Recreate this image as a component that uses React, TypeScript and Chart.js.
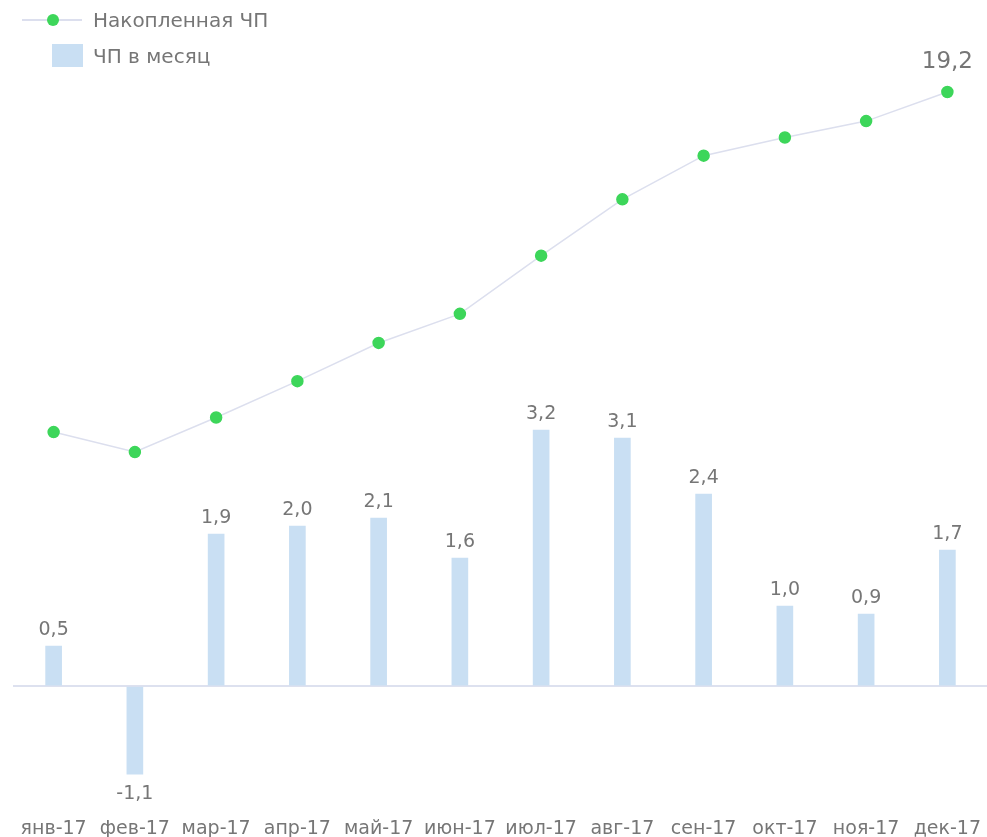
import React, { useEffect, useRef } from "react";
import { Chart, registerables } from "chart.js";

Chart.register(...registerables);

const categories = ["янв-17", "фев-17", "мар-17", "апр-17", "май-17", "июн-17", "июл-17", "авг-17", "сен-17", "окт-17", "ноя-17", "дек-17"];
const monthly = [0.5, -1.1, 1.9, 2.0, 2.1, 1.6, 3.2, 3.1, 2.4, 1.0, 0.9, 1.7];
const cumulative = [0.5, -0.6, 1.3, 3.3, 5.4, 7.0, 10.2, 13.3, 15.7, 16.7, 17.6, 19.2];
const seriesNames = ["Накопленная ЧП", "ЧП в месяц"];

const FONT = "'DejaVu Sans', sans-serif";
const TEXT = "#767676";
const BAR = "#c9dff3";
const LINE = "#dcdfee";
const DOT = "#3dd65a";

const fmt = (v: number) => v.toFixed(1).replace(".", ",");

const labelPlugin = {
  id: "valueLabels",
  afterDatasetsDraw(chart: any) {
    const ctx = chart.ctx;
    ctx.save();
    ctx.fillStyle = TEXT;
    ctx.textAlign = "center";
    ctx.textBaseline = "alphabetic";
    const barMeta = chart.getDatasetMeta(1);
    ctx.font = `19px ${FONT}`;
    barMeta.data.forEach((el: any, i: number) => {
      const v = monthly[i];
      if (v >= 0) {
        ctx.fillText(fmt(v), el.x, el.y - 11);
      } else {
        ctx.fillText(fmt(v), el.x, el.y + 25);
      }
    });
    const lineMeta = chart.getDatasetMeta(0);
    const last = lineMeta.data[lineMeta.data.length - 1];
    ctx.font = `23px ${FONT}`;
    ctx.fillText(fmt(cumulative[cumulative.length - 1]), last.x, last.y - 24);
    ctx.restore();
  },
};

export default function App() {
  const ref = useRef<HTMLCanvasElement>(null);
  useEffect(() => {
    if (!ref.current) return;
    const chart = new Chart(ref.current, {
      type: "bar",
      data: {
        labels: categories,
        datasets: [
          {
            type: "line",
            label: seriesNames[0],
            data: cumulative,
            yAxisID: "yLine",
            borderColor: LINE,
            borderWidth: 1.5,
            pointBackgroundColor: DOT,
            pointBorderColor: DOT,
            pointRadius: 5.5,
            tension: 0,
            order: 0,
          } as any,
          {
            type: "bar",
            label: seriesNames[1],
            data: monthly,
            yAxisID: "yBar",
            backgroundColor: BAR,
            barThickness: 16,
            order: 1,
          },
        ],
      },
      options: {
        animation: false,
        responsive: true,
        maintainAspectRatio: false,
        layout: { padding: { left: 13, right: 0, top: 20, bottom: 6 } },
        plugins: { legend: { display: false }, tooltip: { enabled: false } },
        scales: {
          x: {
            grid: { display: false },
            border: { display: false },
            ticks: { color: TEXT, font: { family: FONT, size: 19 }, padding: 4, maxRotation: 0, autoSkip: false },
          },
          yBar: {
            position: "left",
            min: -1.4875,
            max: 8.325,
            ticks: { display: false },
            border: { display: false },
            grid: {
              drawTicks: false,
              lineWidth: 2,
              color: (c: any) => (c.tick && c.tick.value === 0 ? "#dde1ef" : "transparent"),
            },
          },
          yLine: {
            position: "right",
            display: false,
            min: -20.02,
            max: 23.16,
          },
        },
      },
      plugins: [labelPlugin],
    });
    return () => chart.destroy();
  }, []);

  const legendText: React.CSSProperties = {
    position: "absolute",
    left: 93,
    fontFamily: FONT,
    fontSize: 20,
    color: TEXT,
    lineHeight: "24px",
    whiteSpace: "nowrap",
  };

  return (
    <div style={{ position: "fixed", left: 0, top: 0, width: 995, height: 850 }}>
      <canvas ref={ref} />
      <div style={{ position: "absolute", left: 22, top: 19, width: 60, height: 2, background: LINE }} />
      <div style={{ position: "absolute", left: 47, top: 14, width: 12, height: 12, borderRadius: 6, background: DOT }} />
      <div style={{ ...legendText, top: 8 }}>{seriesNames[0]}</div>
      <div style={{ position: "absolute", left: 52, top: 44, width: 31, height: 23, background: BAR }} />
      <div style={{ ...legendText, top: 44 }}>{seriesNames[1]}</div>
    </div>
  );
}
